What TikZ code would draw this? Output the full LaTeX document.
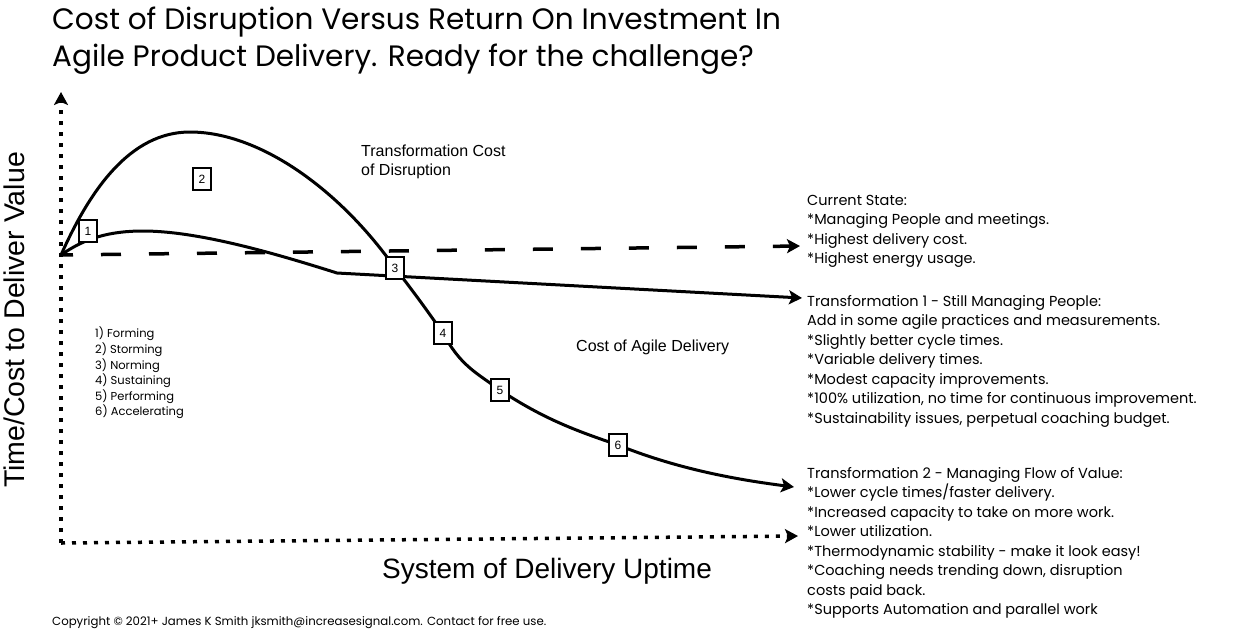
\documentclass[tikz,border=0pt]{standalone}
\usepackage{fontspec}
\setmainfont{Poppins}
\newfontfamily\arialfont{Liberation Sans}
\usetikzlibrary{arrows.meta,positioning}

\begin{document}
\begin{tikzpicture}[x=1pt,y=-1pt,
    curve/.style={line width=3pt,line cap=round},
    dotaxis/.style={line width=3.5pt,dash pattern=on 4pt off 7pt},
    numbox/.style={draw,fill=white,line width=1.8pt,minimum width=18pt,minimum height=22pt,inner sep=0pt,font=\arialfont\fontsize{12}{12}\selectfont},
    note/.style={anchor=north west,align=left,inner sep=0pt,font=\fontsize{14.5}{19.5}\selectfont},
    lbl/.style={anchor=north west,align=left,inner sep=0pt,font=\arialfont\fontsize{16}{19}\selectfont},
    >={Stealth[length=13pt,width=14pt,inset=3pt]}
  ]
    \fill[white] (0,0) rectangle (1234,633);

    \coordinate (o) at (61,255);
    \coordinate (corner) at (61,543);
    \coordinate (ytop) at (61,92);
    \coordinate (xend) at (798,536);
    \coordinate (cur) at (800,246);
    \coordinate (t1) at (802,298);
    \coordinate (t2) at (794,487);
    \coordinate (p1) at (88,231);
    \coordinate (p2) at (202,179);
    \coordinate (p3) at (395,268);
    \coordinate (p4) at (443,333);
    \coordinate (p5) at (500,390);
    \coordinate (p6) at (618,445);

    \draw[dotaxis,->] (corner) -- (ytop);
    \draw[dotaxis,->] (corner) -- (xend);
    \draw[line width=3.5pt,dash pattern=on 20pt off 28pt,dash phase=8pt,->] (o) -- (cur);

    \draw[curve,->] (o) .. controls (90,190) and (130,132) .. (190,132)
      .. controls (260,132) and (340,190) .. (p3)
      .. controls (420,300) and (430,315) .. (p4)
      .. controls (460,365) and (475,372) .. (p5)
      .. controls (545,420) and (580,432) .. (p6)
      .. controls (680,470) and (740,480) .. (t2);
    \draw[curve,->] (o) .. controls (85,238) and (110,231) .. (143,231)
      .. controls (200,231) and (280,255) .. (337,273) -- (t1);

    \foreach \n in {1,...,6}
      \node[numbox] (box\n) at (p\n) {\n};

    \node[anchor=north west,align=left,inner sep=0pt,font=\fontsize{29.5}{37}\selectfont] (title) at (52,7)
      {Cost of Disruption Versus Return On Investment In\\Agile Product Delivery. Ready for the challenge?};

    \node[lbl] (disrupt) at (361,145) {Transformation Cost\\of Disruption};
    \node[lbl] (agile) at (576,340) {Cost of Agile Delivery};

    \node[anchor=north west,align=left,inner sep=0pt,font=\fontsize{11.5}{15.6}\selectfont] (stages) at (95,327)
      {1) Forming\\2) Storming\\3) Norming\\4) Sustaining\\5) Performing\\6) Accelerating};

    \node[note] (current) at (807,195)
      {Current State:\\*Managing People and meetings.\\*Highest delivery cost.\\*Highest energy usage.};
    \node[note] (trans1) at (807,295)
      {Transformation 1 - Still Managing People:\\Add in some agile practices and measurements.\\*Slightly better cycle times.\\*Variable delivery times.\\*Modest capacity improvements.\\*100\% utilization, no time for continuous improvement.\\*Sustainability issues, perpetual coaching budget.};
    \node[note] (trans2) at (807,467)
      {Transformation 2 - Managing Flow of Value:\\*Lower cycle times/faster delivery.\\*Increased capacity to take on more work.\\*Lower utilization.\\*Thermodynamic stability - make it look easy!\\*Coaching needs trending down, disruption\\costs paid back.\\*Supports Automation and parallel work};

    \node[font=\arialfont\fontsize{28}{28}\selectfont] (xlabel) at (547,571) {System of Delivery Uptime};
    \node[font=\arialfont\fontsize{28.5}{28.5}\selectfont,rotate=90] (ylabel) at (14,320) {Time/Cost to Deliver Value};

    \node[anchor=west,inner sep=0pt,font=\fontsize{11.75}{12}\selectfont] (copy) at (52,623)
      {Copyright © 2021+ James K Smith jksmith@increasesignal.com. Contact for free use.};
  \end{tikzpicture}
\end{document}
